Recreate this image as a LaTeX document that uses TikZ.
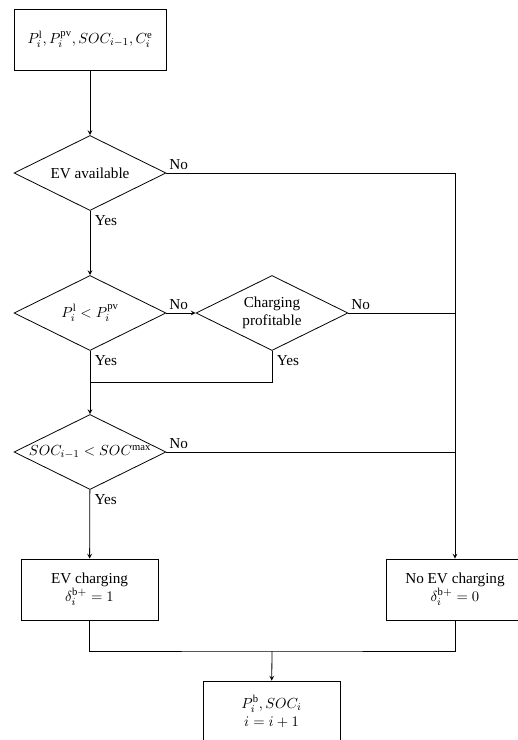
\documentclass[tikz,border=0pt]{standalone}
\usepackage{fontspec}
\setmainfont{Liberation Serif}
\usetikzlibrary{shapes.geometric}
\begin{document}
\begin{tikzpicture}[x=0.75pt,y=-0.75pt,font=\fontsize{11.4}{13.7}\selectfont,
    line width=0.6pt,
    box/.style={draw,rectangle,align=center,minimum width=102.75pt,minimum height=45.75pt},
    dec/.style={draw,diamond,inner sep=0pt,minimum width=114pt,minimum height=56.25pt}]
    \useasboundingbox (0,0) rectangle (518,740);
    \node[box,minimum width=114pt](in) at (90,39.5) {$P_i^{\mathrm{l}}, P_i^{\mathrm{pv}}, SOC_{i-1}, C_i^{\mathrm{e}}$};
    \node[dec,label=center:{EV available}](ev) at (90,173) {};
    \node[dec,label=center:{$P_i^{\mathrm{l}} < P_i^{\mathrm{pv}}$}](pv) at (90,313) {};
    \node[dec,label=center:{\begin{tabular}{@{}c@{}}Charging\\profitable\end{tabular}}](prof) at (272,313) {};
    \node[dec,label=center:{$SOC_{i-1} < SOC^{\mathrm{max}}$}](soc) at (90,452) {};
    \node[box](chg) at (89.5,589.5) {EV charging\\ $\delta_i^{\mathrm{b+}} = 1$};
    \node[box](nochg) at (455,589.5) {No EV charging\\ $\delta_i^{\mathrm{b+}} = 0$};
    \node[box](out) at (271.5,711.5) {$P_i^{\mathrm{b}}, SOC_i$\\ $i = i+1$};
    \coordinate (j1) at (90,382);
    \coordinate (j2) at (272,651);
    \draw [-stealth] (in) -- (ev);
    \draw [-stealth] (ev.east) -| (nochg) node(no1)[pos=0,above right,inner sep=2pt]{No};
    \draw [-stealth] (ev) -- (pv) node(yes1)[pos=0,below right]{Yes};
    \draw [-stealth] (pv.east) -- (prof.west) node(no2)[pos=0,above right,inner sep=2pt]{No};
    \draw (prof.east) -- (nochg.north |- prof.east) node(no3)[pos=0,above right,inner sep=2pt]{No};
    \draw (prof.south) |- (j1) node(yes3)[pos=0,below right]{Yes};
    \draw [-stealth] (pv) -- (soc) node(yes2)[pos=0,below right]{Yes};
    \draw (soc.east) -- (nochg.north |- soc.east) node(no4)[pos=0,above right,inner sep=2pt]{No};
    \draw [-stealth] (soc) -- (chg) node(yes4)[pos=0,below right]{Yes};
    \draw (chg) |- (j2) -| (nochg);
    \draw [-stealth] (j2) -- (out);
\end{tikzpicture}
\end{document}
